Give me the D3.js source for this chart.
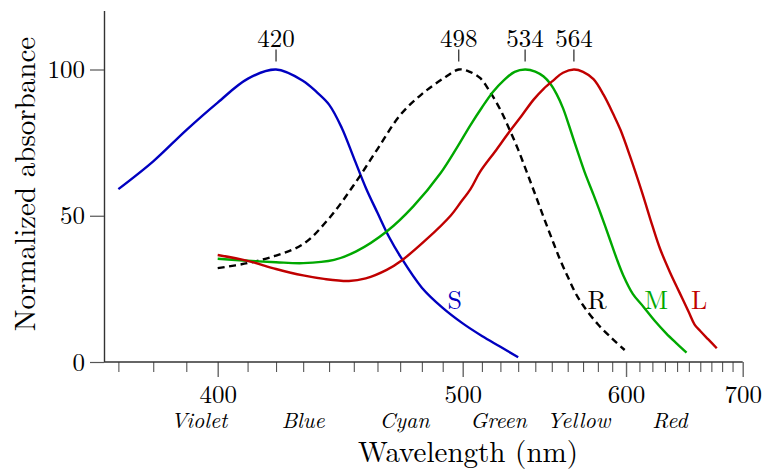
<!DOCTYPE html>
<html>
<head>
<meta charset="utf-8">
<script src="https://cdn.jsdelivr.net/npm/d3@7/dist/d3.min.js"></script>
<style>
  html, body { margin: 0; padding: 0; background: #fff; }
  svg { display: block; }
</style>
</head>
<body>
<svg id="chart" width="765" height="474"></svg>
<script>
// Cone and rod absorbance spectra, [wavelength nm, normalized absorbance]
const sCone = [[370,59.1],[380,68.6],[390,79.3],[400,88.7],[410,96.8],[420,100],[430,96.1],[435,92.4],[440,88],[445,80.2],[450,69.8],[455,59.6],[460,51],[465,42.8],[470,36.2],[480,25.4],[490,18.5],[500,13.2],[510,8.9],[520,5.2],[530,1.6]];
const rod = [[400,32.1],[410,33.8],[420,36.4],[430,40.3],[440,49.1],[450,60.5],[460,72.8],[470,84.4],[480,91.6],[490,96.8],[498,100],[503,99.4],[509,97.1],[514,92.7],[520,86.2],[525,79.6],[530,72.6],[535,64.9],[540,57.2],[545,49.5],[550,42.2],[555,35.2],[560,29.2],[565,23.6],[570,19.4],[580,12.9],[590,8],[599,4.1]];
const mCone = [[400,35.3],[410,34.6],[420,34.1],[430,33.8],[442,34.9],[451,37.8],[464,44.6],[476,53.2],[489,64.6],[497,73.2],[504,81],[510,87],[516,92.4],[522,96.4],[528,99.2],[534,100],[540,99.3],[545,97.6],[549,95.2],[553,91.6],[557,86.8],[561,80.6],[566,72.6],[571,65],[577,57.2],[582,50.6],[588,42.4],[593,35.6],[598,29.6],[605,23.3],[613,18.9],[622,14],[631,9.8],[640,6.2],[648,3.2]];
const lCone = [[400,36.6],[410,34.6],[420,31.8],[430,29.6],[438,28.4],[448,27.7],[455,28.6],[464,31.5],[471,34.9],[482,41.8],[494,50.1],[499,54.6],[504,59.1],[509,65],[517,71.9],[525,78.7],[532,84.2],[539,89.7],[545,93.4],[551,96.3],[557,98.9],[564,100],[570,99.2],[577,96.7],[584,91.3],[591,84.5],[596,79.3],[603,70.3],[612,58],[620,46.6],[626,38.8],[634,30.8],[642,23.8],[650,17],[655,12.8],[660,10.6],[667,7.8],[675,4.7]];

const peaks = [420, 498, 534, 564];
const xTicks = d3.range(370, 701, 10);
const xMajor = [400, 500, 600, 700];
const yTicks = [0, 50, 100];
const colorNames = ["Violet", "Blue", "Cyan", "Green", "Yellow", "Red"];
const colorNamePos = [394, 430, 472, 519, 567, 634];

const series = [
  { key: "S", data: sCone, color: "#0000c0", dash: null, label: [496, 18.2] },
  { key: "R", data: rod,   color: "#000000", dash: "7,4.5", label: [579.5, 18.2] },
  { key: "M", data: mCone, color: "#00a800", dash: null, label: [623, 18.2] },
  { key: "L", data: lCone, color: "#c00000", dash: null, label: [659, 18.2] }
];

const FONT = "'Latin Modern Roman', 'CMU Serif', 'Liberation Serif', serif";
const svg = d3.select("#chart");

// Horizontal axis is linear in wave number (1/λ)
const inv = d3.scaleLinear().domain([1 / 400, 1 / 700]).range([217.7, 742.7]);
const x = nm => inv(1 / nm);
const y = d3.scaleLinear().domain([0, 120]).range([362, 11]);

// Curves
const line = d3.line()
  .x(d => x(d[0]))
  .y(d => y(d[1]))
  .curve(d3.curveCatmullRom.alpha(0.5));

svg.append("g").selectAll("path")
  .data(series)
  .join("path")
  .attr("d", d => line(d.data))
  .attr("fill", "none")
  .attr("stroke", d => d.color)
  .attr("stroke-width", 2.4)
  .attr("stroke-dasharray", d => d.dash);

svg.append("g").selectAll("text")
  .data(series)
  .join("text")
  .attr("x", d => x(d.label[0]))
  .attr("y", d => y(d.label[1]))
  .attr("text-anchor", "middle")
  .style("font-size", "26px")
  .style("fill", d => d.color)
  .text(d => d.key);

// Peak markers
const pk = svg.append("g");
pk.selectAll("line")
  .data(peaks)
  .join("line")
  .attr("x1", d => x(d)).attr("x2", d => x(d))
  .attr("y1", y(100) - 8).attr("y2", y(100) - 20)
  .attr("stroke", "#111").attr("stroke-width", 1.1);
pk.selectAll("text")
  .data(peaks)
  .join("text")
  .attr("x", d => x(d))
  .attr("y", y(100) - 23)
  .attr("text-anchor", "middle")
  .style("font-size", "25px")
  .text(d => d);

// X axis
const xAxis = d3.axisBottom(inv)
  .tickValues(xTicks.map(v => 1 / v))
  .tickSize(10)
  .tickPadding(4)
  .tickFormat(d => {
    const v = Math.round(1 / d);
    return xMajor.includes(v) ? v : "";
  });

const gx = svg.append("g")
  .attr("transform", "translate(0,362)")
  .call(xAxis);
gx.select(".domain").remove();
gx.selectAll(".tick line").attr("stroke", "#555").attr("stroke-width", 1.1);
gx.selectAll(".tick")
  .filter(d => xMajor.includes(Math.round(1 / d)))
  .select("line").attr("y2", 15).attr("stroke", "#666").attr("stroke-width", 1.4);
gx.selectAll(".tick text")
  .attr("y", 0).attr("dy", 0)
  .attr("transform", "translate(0,41)")
  .style("font-size", "25px");
gx.append("line")
  .attr("x1", 104).attr("x2", x(700))
  .attr("stroke", "#333").attr("stroke-width", 1.4);

// Y axis
const yAxis = d3.axisLeft(y)
  .tickValues(yTicks)
  .tickSize(14)
  .tickPadding(5);
const gy = svg.append("g")
  .attr("transform", "translate(104,0)")
  .call(yAxis);
gy.select(".domain").attr("d", `M0.5,${y(0)}V${y(120)}`).attr("stroke", "#333").attr("stroke-width", 1.4);
gy.selectAll(".tick line").attr("stroke", "#555").attr("stroke-width", 1.2);
gy.selectAll(".tick text")
  .style("font-size", "25px");

// Spectral colour names under the axis
svg.append("g").selectAll("text")
  .data(colorNames)
  .join("text")
  .attr("x", (d, i) => x(colorNamePos[i]))
  .attr("y", 428)
  .attr("text-anchor", "middle")
  .style("font-size", "22px")
  .style("font-style", "italic")
  .text(d => d);

// Axis titles
svg.append("text")
  .attr("x", 468).attr("y", 462)
  .attr("text-anchor", "middle")
  .style("font-size", "29px")
  .text("Wavelength (nm)");

svg.append("text")
  .attr("transform", "translate(35,184) rotate(-90)")
  .attr("text-anchor", "middle")
  .style("font-size", "29px")
  .text("Normalized absorbance");

// One typeface for every label
svg.selectAll("text")
  .style("font-family", FONT)
  .filter(function () { return !this.style.fill; })
  .style("fill", "#000");
</script>
</body>
</html>
